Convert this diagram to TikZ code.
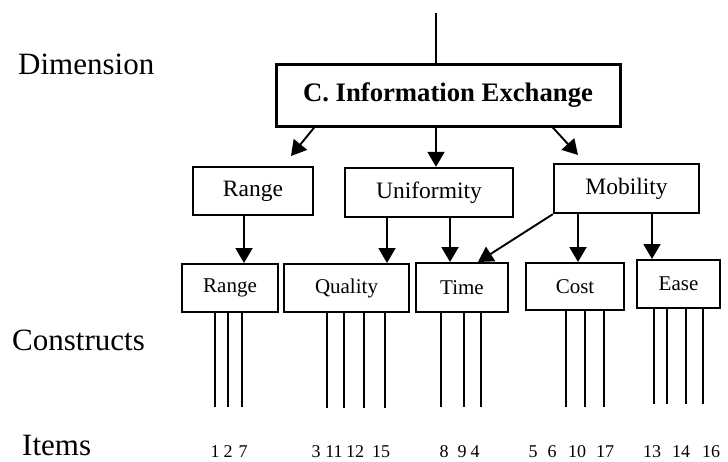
\documentclass[tikz,border=0pt]{standalone}
\usepackage{fontspec}
\setmainfont{Liberation Serif}
\usetikzlibrary{arrows.meta}
\begin{document}
\begin{tikzpicture}[x=1pt,y=-1pt,
  box/.style={draw,line width=2pt,inner sep=0pt,anchor=center},
  lvltwo/.style={box,line width=2.4pt,font=\fontsize{23.5}{24}\selectfont},
  lvlthree/.style={box,line width=2pt,font=\fontsize{21}{22}\selectfont},
  arr/.style={line width=1.9pt,-{Triangle[length=15pt,width=17pt]}},
  itemline/.style={line width=1.8pt},
  side/.style={font=\fontsize{31}{31}\selectfont,anchor=base west,inner sep=0pt},
  num/.style={font=\fontsize{18}{18}\selectfont,anchor=base,inner sep=0pt}]
\useasboundingbox (0,0) rectangle (728,461);

% row labels
\node[side] (dimlabel) at (18,74) {Dimension};
\node[side] (conlabel) at (12,350) {Constructs};
\node[side] (itemlabel) at (22,455) {Items};

% dimension
\node[box,line width=3pt,minimum width=344pt,minimum height=62pt,
      font=\fontsize{26.7}{27}\selectfont\bfseries] (main) at (448,95) {C. Information Exchange};
\coordinate (top) at (436,13);
\draw[line width=1.5pt] (top) -- (main.north -| top);

% sub-dimensions
\node[lvltwo,minimum width=120pt,minimum height=48pt] (rangeA) at (253,191) {Range};
\node[lvltwo,minimum width=168pt,minimum height=49pt] (unif) at (429,192.5) {Uniformity};
\node[lvltwo,minimum width=145pt,minimum height=49pt] (mob) at (626.5,188.5) {Mobility};

% constructs
\node[lvlthree,minimum width=96pt,minimum height=48pt] (rangeB) at (230,288) {Range};
\node[lvlthree,minimum width=125pt,minimum height=48pt] (qual) at (346.5,288) {Quality};
\node[lvlthree,minimum width=92pt,minimum height=49pt] (time) at (462,287.5) {Time};
\node[lvlthree,minimum width=98pt,minimum height=47pt] (cost) at (575,286.5) {Cost};
\node[lvlthree,minimum width=83pt,minimum height=48pt] (ease) at (678.5,284) {Ease};

% dimension -> sub-dimensions
\coordinate (tipR) at (291,156);
\coordinate (tipM) at (578,155);
\draw[arr] (main.south -| rangeA.east) -- (tipR);
\draw[arr] (main.south -| top) -- (unif.north -| top);
\draw[arr] (main.south -| mob.west) -- (tipM);

% sub-dimensions -> constructs
\coordinate (xa) at (244,0);
\coordinate (xb) at (387,0);
\coordinate (xc) at (450,0);
\coordinate (xd) at (578,0);
\coordinate (xe) at (652,0);
\draw[arr] (rangeA.south -| xa) -- (rangeB.north -| xa);
\draw[arr] (unif.south -| xb) -- (qual.north -| xb);
\draw[arr] (unif.south -| xc) -- (time.north -| xc);
\draw[arr] (mob.south west) -- (time.north -| 478,0);
\draw[arr] (mob.south -| xd) -- (cost.north -| xd);
\draw[arr] (mob.south -| xe) -- (ease.north -| xe);

% item lines
\foreach \x in {215,228,242} \draw[itemline] (\x,0 |- rangeB.south) -- (\x,407);
\foreach \x in {327,344,364,385} \draw[itemline] (\x,0 |- qual.south) -- (\x,408);
\foreach \x in {441,464,481} \draw[itemline] (\x,0 |- time.south) -- (\x,407);
\foreach \x in {566,585,604} \draw[itemline] (\x,0 |- cost.south) -- (\x,407);
\foreach \x in {654,667,686,703} \draw[itemline] (\x,0 |- ease.south) -- (\x,404);

% item numbers
\foreach \x/\t in {215/1,228/2,243/7,
                   316/3,334/11,355/12,381/15,
                   444/8,462/9,475/4,
                   533/5,552/6,577/10,605/17,
                   652/13,681/14,711/16}
  \node[num] at (\x,457) {\t};
\end{tikzpicture}
\end{document}
